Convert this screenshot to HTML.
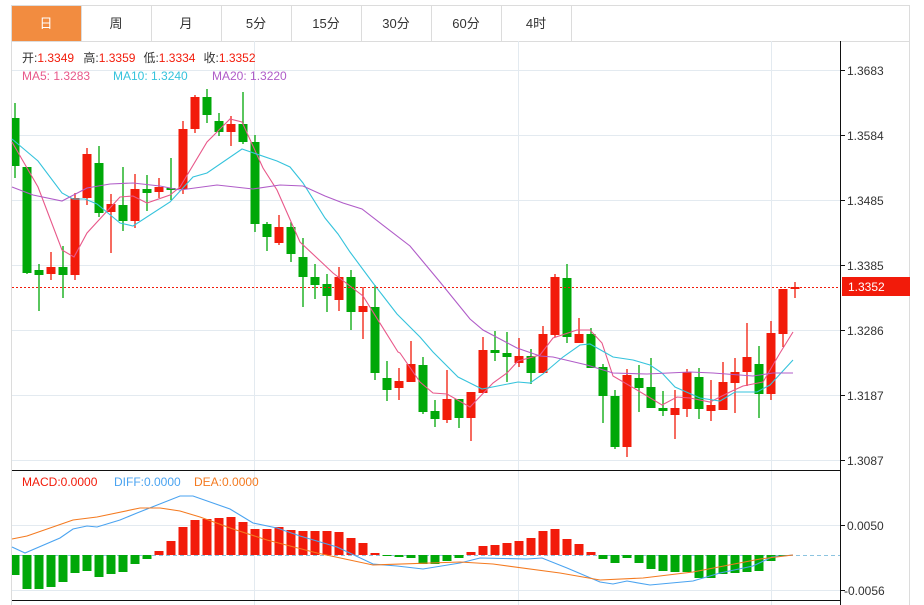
<!DOCTYPE html>
<html><head><meta charset="utf-8">
<style>
html,body{margin:0;padding:0;background:#fff;width:924px;height:605px;overflow:hidden}
svg{display:block}
text{font-family:"Liberation Sans","Noto Sans CJK SC",sans-serif}
</style></head><body>
<svg id="s" width="924" height="605" xmlns="http://www.w3.org/2000/svg">
<rect x="0" y="0" width="924" height="605" fill="#fff"/>
<!-- tab bar -->
<rect x="11.5" y="5.5" width="898" height="36" fill="#fff" stroke="#dcdcdc"/>
<rect x="12" y="6" width="69" height="35" fill="#f28c40"/>
<g stroke="#dcdcdc"><line x1="81.5" y1="6" x2="81.5" y2="41"/><line x1="151.5" y1="6" x2="151.5" y2="41"/><line x1="221.5" y1="6" x2="221.5" y2="41"/><line x1="291.5" y1="6" x2="291.5" y2="41"/><line x1="361.5" y1="6" x2="361.5" y2="41"/><line x1="431.5" y1="6" x2="431.5" y2="41"/><line x1="501.5" y1="6" x2="501.5" y2="41"/><line x1="571.5" y1="6" x2="571.5" y2="41"/></g>
<g font-size="13" text-anchor="middle" fill="#333">
<text x="46" y="28" fill="#fff">日</text><text x="116" y="28">周</text><text x="186" y="28">月</text><text x="256" y="28">5分</text><text x="326" y="28">15分</text><text x="396" y="28">30分</text><text x="466" y="28">60分</text><text x="536" y="28">4时</text>
</g>
<!-- frame -->
<line x1="11.5" y1="41" x2="11.5" y2="605" stroke="#dcdcdc"/>
<line x1="909.5" y1="41" x2="909.5" y2="605" stroke="#dcdcdc"/>
<!-- grid -->
<g stroke="#e3eaf0" stroke-width="1">
<line x1="12" y1="70.5" x2="840" y2="70.5"/><line x1="12" y1="135.5" x2="840" y2="135.5"/><line x1="12" y1="200.5" x2="840" y2="200.5"/><line x1="12" y1="265.5" x2="840" y2="265.5"/><line x1="12" y1="330.5" x2="840" y2="330.5"/><line x1="12" y1="395.5" x2="840" y2="395.5"/><line x1="12" y1="460.5" x2="840" y2="460.5"/>
<line x1="12" y1="525.5" x2="840" y2="525.5"/><line x1="12" y1="590.5" x2="840" y2="590.5"/>
<line x1="254.5" y1="41" x2="254.5" y2="605"/><line x1="518.5" y1="41" x2="518.5" y2="605"/><line x1="771.5" y1="41" x2="771.5" y2="605"/>
</g>
<line x1="12" y1="470.5" x2="840" y2="470.5" stroke="#111"/>
<line x1="12" y1="600.5" x2="840" y2="600.5" stroke="#111"/>
<line x1="840.5" y1="41" x2="840.5" y2="605" stroke="#111"/>
<g stroke="#111"><line x1="840" y1="70.5" x2="845" y2="70.5"/><line x1="840" y1="135.5" x2="845" y2="135.5"/><line x1="840" y1="200.5" x2="845" y2="200.5"/><line x1="840" y1="265.5" x2="845" y2="265.5"/><line x1="840" y1="330.5" x2="845" y2="330.5"/><line x1="840" y1="395.5" x2="845" y2="395.5"/><line x1="840" y1="460.5" x2="845" y2="460.5"/><line x1="840" y1="525.5" x2="845" y2="525.5"/><line x1="840" y1="590.5" x2="845" y2="590.5"/></g>
<g font-size="12" fill="#333">
<text x="847" y="75">1.3683</text><text x="847" y="140">1.3584</text><text x="847" y="205">1.3485</text><text x="847" y="270">1.3385</text><text x="847" y="335">1.3286</text><text x="847" y="400">1.3187</text><text x="847" y="465">1.3087</text><text x="847" y="530">0.0050</text><text x="844" y="595">-0.0056</text>
</g>
<line x1="12" y1="555.5" x2="840" y2="555.5" stroke="#8cc4e0" stroke-dasharray="4,3"/>
<g id="c"></g>
<line x1="12" y1="287.5" x2="840" y2="287.5" stroke="#f21b0a" stroke-dasharray="2,2"/>
<rect x="842" y="277" width="68" height="19" fill="#f21b0a"/>
<text x="848" y="291" font-size="12" fill="#fff">1.3352</text>
<g font-size="12">
<text x="22" y="62" fill="#333">开:<tspan fill="#f21b0a">1.3349</tspan>  <tspan dx="6">高:</tspan><tspan fill="#f21b0a">1.3359</tspan><tspan dx="8">低:</tspan><tspan fill="#f21b0a">1.3334</tspan><tspan dx="8">收:</tspan><tspan fill="#f21b0a">1.3352</tspan></text>
<text x="22" y="80" fill="#e8588a">MA5: 1.3283</text>
<text x="113" y="80" fill="#35c3dc">MA10: 1.3240</text>
<text x="212" y="80" fill="#b05cc8">MA20: 1.3220</text>
<text x="22" y="486" fill="#f21b0a">MACD:0.0000</text>
<text x="114" y="486" fill="#4aa3f0">DIFF:0.0000</text>
<text x="194" y="486" fill="#f47a20">DEA:0.0000</text>
</g>
</svg>
<script>
var C=[
[118,166,103,178,0],[167,273,167,274,0],[270,275,264,311,0],[267,274,252,280,1],[267,275,246,298,0],[198,275,193,280,1],[154,198,148,205,1],[163,213,146,217,0],[204,212,194,253,1],[205,221,167,231,0],
[189,221,174,228,1],[189,193,175,211,0],[187,192,178,198,1],[188,189,158,200,0],[129,189,121,194,1],[97,129,95,133,1],[97,115,89,123,0],[121,132,113,136,0],[124,132,116,146,1],[124,142,92,144,0],
[142,224,135,232,0],[224,237,222,251,0],[227,243,215,245,1],[227,254,222,262,0],[257,277,238,307,0],[277,285,264,299,0],[284,296,274,312,0],[277,300,267,311,1],[277,312,270,330,0],[306,312,287,339,1],
[307,373,285,380,0],[378,390,361,401,0],[381,388,368,400,1],[364,382,341,382,1],[365,412,357,414,0],[411,419,400,427,0],[399,420,370,423,1],[399,418,399,428,0],[392,418,392,441,1],[350,393,337,393,1],
[350,353,331,361,0],[353,357,332,382,0],[356,363,338,367,1],[356,373,349,384,0],[334,373,326,373,1],[277,335,274,337,1],[278,337,264,343,0],[334,343,318,343,1],[334,368,328,368,0],[367,396,364,423,0],
[396,447,390,449,0],[375,447,369,457,1],[378,388,365,412,0],[387,408,358,408,0],[408,411,391,416,0],[408,415,390,439,1],[372,409,369,417,1],[377,409,368,419,0],[405,411,380,421,1],[382,410,362,410,1],
[372,383,358,413,1],[357,372,323,386,1],[364,394,346,418,0],[333,394,321,400,1],[289,334,289,347,1],[287,289,282,298,1]];
var M=[575,589,589,587,582,573,571,577,574,572,564,559,551,541,527,520,519,518,517,522,529,529,527,530,531,531,531,532,538,543,553,556,557,558,564,564,561,558,552,546,545,543,541,538,531,529,539,544,552,559,563,558,563,569,571,572,572,578,578,574,573,572,571,561,556,555];
var ns="http://www.w3.org/2000/svg",g=document.getElementById('c'),h='';
var R='#f21b0a',G='#00a808';
for(var i=0;i<C.length;i++){var x=15+12*i,c=C[i],col=c[4]?R:G;
 var L=Math.max(12,x-4.5),W=x+4.5-L;
 h+='<line x1="'+x+'" y1="'+c[2]+'" x2="'+x+'" y2="'+c[3]+'" stroke="'+col+'" stroke-width="1.3"/>';
 h+='<rect x="'+L+'" y="'+c[0]+'" width="'+W+'" height="'+Math.max(2,c[1]-c[0])+'" fill="'+col+'"/>';
 var m=M[i];if(m!=555){var t=Math.min(m,555),b=Math.max(m,555);
 h+='<rect x="'+L+'" y="'+t+'" width="'+W+'" height="'+(b-t)+'" fill="'+(m<555?R:G)+'"/>';}
}
function pl(p,col){h+='<polyline fill="none" stroke="'+col+'" stroke-width="1.1" points="'+p+'"/>';}
pl("12,142 38,187 62,250 74,257 87,233 120,197 133,196 147,203 170,195 180,187 207,142 230,119 242,122 263,168 277,190 300,242 333,273 363,296 398,352 400,353 420,382 433,393 447,394 470,407 493,383 507,373 518,361 540,355 553,338 577,330 590,330 602,343 613,376 637,390 662,405 677,397 690,398 710,402 730,392 743,386 763,382 780,353 793,332","#e8588a");
pl("12,139 38,161 62,193 73,199 85,199 97,204 120,223 133,226 170,202 193,177 207,173 242,149 277,161 290,167 303,183 325,218 338,234 350,252 373,283 397,314 420,337 433,352 458,377 482,389 518,382 530,383 543,374 563,357 580,345 590,344 613,357 633,360 650,365 662,373 675,387 700,398 720,401 735,392 757,392 770,385 793,360","#35c3dc");
pl("12,187 33,195 62,201 87,188 110,184 133,183 160,186 180,190 217,185 253,189 280,185 303,186 325,196 343,203 362,209 410,246 420,258 440,282 470,319 483,330 517,348 540,356 553,357 587,365 613,373 647,374 690,372 713,373 753,376 773,373 793,373","#b05cc8");
pl("12,547 25,553 60,538 73,529 87,526 97,527 120,520 137,513 180,496 193,496 230,509 253,523 277,528 300,536 337,547 373,564 397,566 423,569 460,563 480,558 527,559 542,558 567,568 600,582 613,584 627,581 650,585 693,581 720,573 753,566 772,557 793,555","#4aa3f0");
pl("12,539 27,536 73,520 97,517 140,508 160,508 180,511 200,517 233,529 267,540 317,553 373,565 460,562 493,564 560,573 600,580 643,578 693,572 760,559 793,555","#f47a20");
g.innerHTML=h;
</script>
</body></html>
